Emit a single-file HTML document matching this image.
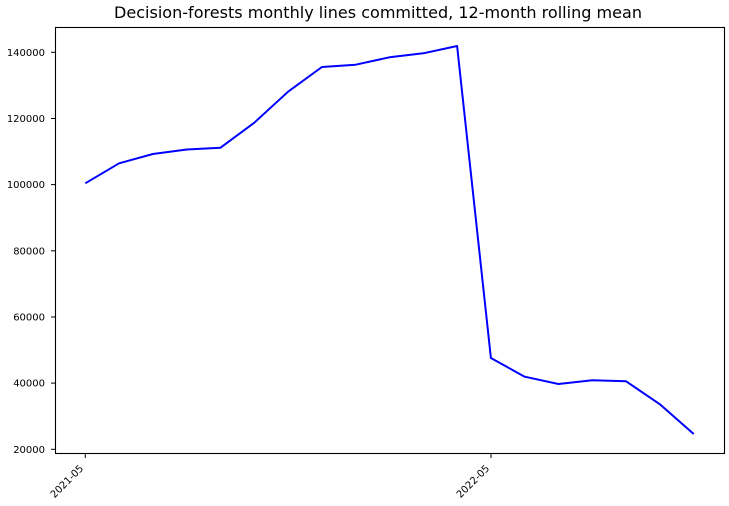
<!DOCTYPE html>
<html><head><meta charset="utf-8"><style>
html,body{margin:0;padding:0;background:#fff;}
svg{display:block;}
text{font-family:"DejaVu Sans","Liberation Sans",sans-serif;fill:#000;}
</style></head><body>
<svg width="729" height="506" viewBox="0 0 729 506" xmlns="http://www.w3.org/2000/svg">
<rect width="729" height="506" fill="#fff"/>
<text x="378" y="18" font-size="15.8" text-anchor="middle" textLength="528" lengthAdjust="spacingAndGlyphs">Decision-forests monthly lines committed, 12-month rolling mean</text>
<polyline fill="none" stroke="#0000ff" stroke-width="2" stroke-linejoin="round" points="85.3,183.3 119.1,163.3 152.9,154 186.7,149.5 220.5,147.7 254.3,122.7 288.1,91.7 321.9,67 355.7,64.7 389.5,57.3 423.3,53.3 457.1,46 490.9,358 524.7,376.7 558.5,384 592.3,380.3 626.1,381.3 659.9,404.3 693.7,434"/>
<rect x="55.5" y="27.5" width="669" height="426" fill="none" stroke="#000" stroke-width="1.1"/>
<g stroke="#000" stroke-width="1">
<line x1="51" x2="55.5" y1="449.3" y2="449.3"/>
<line x1="51" x2="55.5" y1="383.1" y2="383.1"/>
<line x1="51" x2="55.5" y1="317" y2="317"/>
<line x1="51" x2="55.5" y1="250.8" y2="250.8"/>
<line x1="51" x2="55.5" y1="184.6" y2="184.6"/>
<line x1="51" x2="55.5" y1="118.5" y2="118.5"/>
<line x1="51" x2="55.5" y1="52.3" y2="52.3"/>
<line x1="85.3" x2="85.3" y1="453.5" y2="458"/>
<line x1="491" x2="491" y1="453.5" y2="458"/>
</g>
<g font-size="10" text-anchor="end">
<text x="45" y="452.9">20000</text>
<text x="45" y="386.7">40000</text>
<text x="45" y="320.6">60000</text>
<text x="45" y="254.4">80000</text>
<text x="45" y="188.2">100000</text>
<text x="45" y="122.1">120000</text>
<text x="45" y="55.9">140000</text>
<text transform="translate(84,469) rotate(-45)">2021-05</text>
<text transform="translate(490,469) rotate(-45)">2022-05</text>
</g>
</svg>
</body></html>
